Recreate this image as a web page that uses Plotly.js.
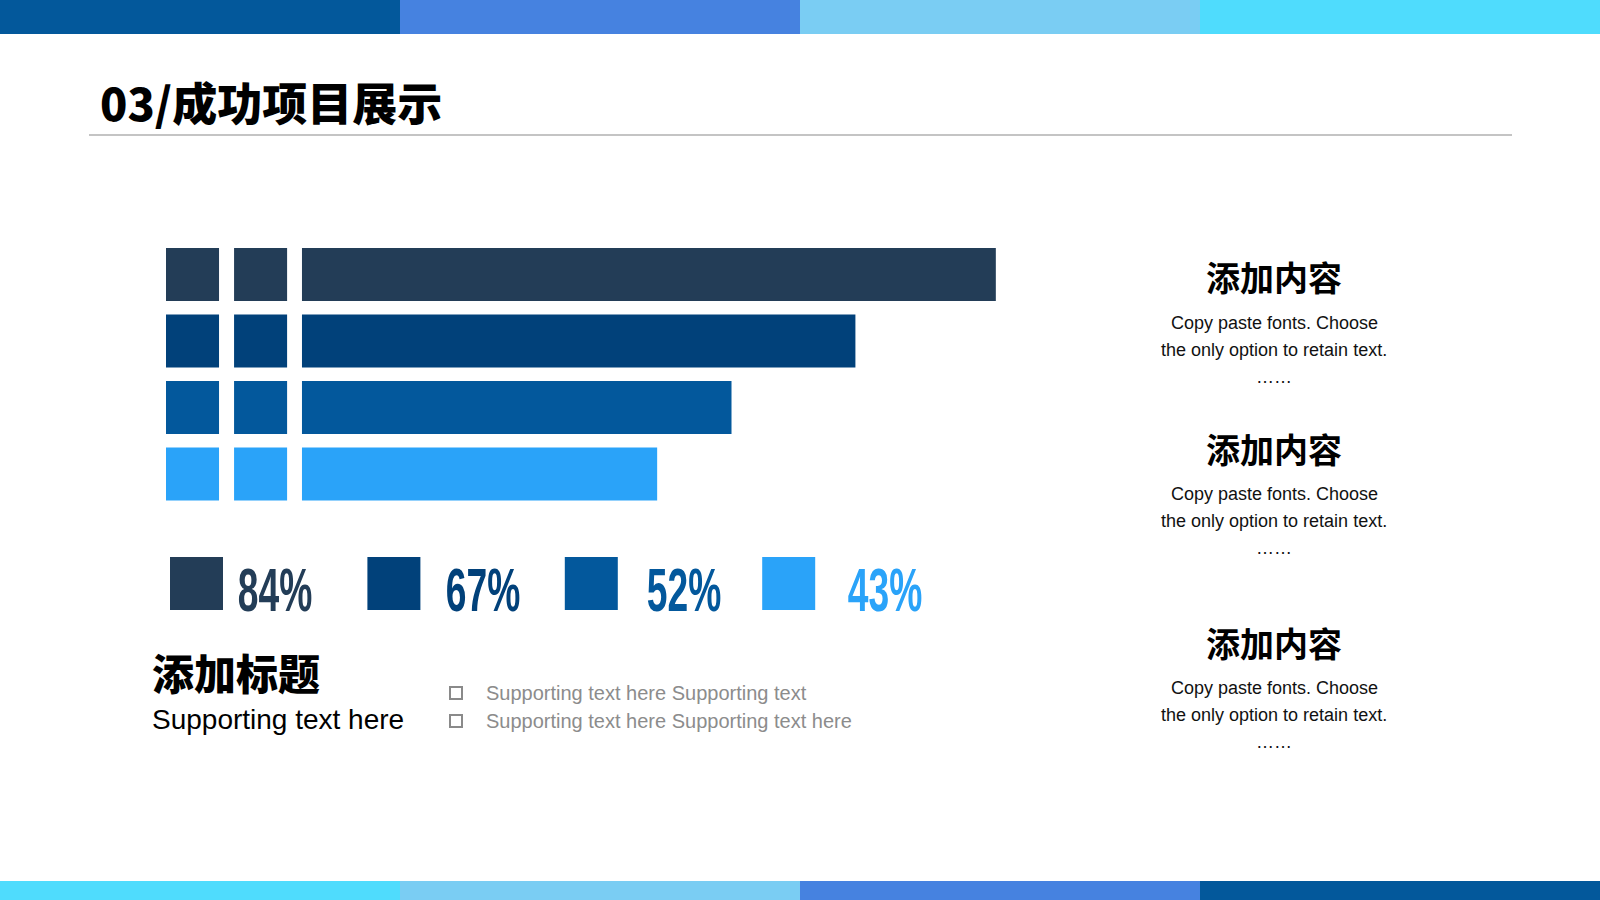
<!DOCTYPE html>
<html><head><meta charset="utf-8">
<script src="https://cdn.plot.ly/plotly-3.0.1.min.js"></script>
<style>html,body{margin:0;padding:0;background:#fff;} #chart{width:1600px;height:900px;}</style>
</head><body><div id="chart"></div>
<script>
// ---- data ----
const categories = ['项目1', '项目2', '项目3', '项目4'];
const values = [84, 67, 52, 43];
const valueLabels = ['84%', '67%', '52%', '43%'];
const barColors = ['#233d57', '#01417a', '#03589c', '#2aa3f9'];
const pageTitle = '03/成功项目展示';
const blockTitle = '添加标题';
const blockSub = 'Supporting text here';
const bulletTexts = ['Supporting text here Supporting text', 'Supporting text here Supporting text here'];
const sideHeads = ['添加内容', '添加内容', '添加内容'];
const sideLines = ['Copy paste fonts. Choose', 'the only option to retain text.', '……'];
const topBarColors = ['#03589b', '#4682e0', '#7acdf3', '#4fdcfd'];
const bottomBarColors = ['#4fdcfd', '#7acdf3', '#4682e0', '#03589b'];

// ---- helpers ----
const W = 1600, H = 900;
const px = x => x / W;
const py = y => 1 - y / H;

const SQ = 6.42;          // decorative square length in axis units
const SQ1 = -16.46, SQ2 = -8.22;

const traces = [
  {type: 'bar', orientation: 'h', y: categories, x: categories.map(() => SQ), base: SQ1,
   marker: {color: barColors}, width: 0.8, hoverinfo: 'skip'},
  {type: 'bar', orientation: 'h', y: categories, x: categories.map(() => SQ), base: SQ2,
   marker: {color: barColors}, width: 0.8, hoverinfo: 'skip'},
  {type: 'bar', orientation: 'h', y: categories, x: values, base: 0,
   marker: {color: barColors}, width: 0.8, hoverinfo: 'skip'}
];

const shapes = [];
const annotations = [];

// top and bottom colour bands
topBarColors.forEach((c, i) => shapes.push({type: 'rect', xref: 'paper', yref: 'paper',
  x0: i / 4, x1: (i + 1) / 4, y0: py(34), y1: 1, fillcolor: c, line: {width: 0}, layer: 'below'}));
bottomBarColors.forEach((c, i) => shapes.push({type: 'rect', xref: 'paper', yref: 'paper',
  x0: i / 4, x1: (i + 1) / 4, y0: 0, y1: py(881), fillcolor: c, line: {width: 0}, layer: 'below'}));

// title rule
shapes.push({type: 'line', xref: 'paper', yref: 'paper', x0: px(89), x1: px(1512), y0: py(135), y1: py(135),
  line: {color: '#8a8a8a', width: 1.2}});

annotations.push({xref: 'paper', yref: 'paper', x: px(98), y: py(101), xanchor: 'left', yanchor: 'middle',
  text: pageTitle, showarrow: false,
  font: {family: '"Noto Sans CJK SC", sans-serif', size: 45, weight: 900, color: '#000'}});

// legend row
const pctIdx = [];
const pctCenters = [275, 483, 684, 885];
valueLabels.forEach((lab, i) => {
  const x0 = 170 + 197.4 * i;
  shapes.push({type: 'rect', xref: 'paper', yref: 'paper', x0: px(x0), x1: px(x0 + 53),
    y0: py(610), y1: py(557), fillcolor: barColors[i], line: {width: 0}});
  pctIdx.push(annotations.length);
  annotations.push({xref: 'paper', yref: 'paper', x: px(pctCenters[i]), y: py(589), xanchor: 'center', yanchor: 'middle',
    text: '<b>' + lab + '</b>', showarrow: false,
    font: {family: '"Liberation Sans", Arial, sans-serif', size: 62, color: barColors[i]}});
});

// block title
annotations.push({xref: 'paper', yref: 'paper', x: px(150), y: py(671), xanchor: 'left', yanchor: 'middle',
  text: blockTitle, showarrow: false,
  font: {family: '"Noto Sans CJK SC", sans-serif', size: 42, weight: 900, color: '#000'}});
annotations.push({xref: 'paper', yref: 'paper', x: px(150), y: py(719), xanchor: 'left', yanchor: 'middle',
  text: blockSub, showarrow: false,
  font: {family: '"Liberation Sans", Arial, sans-serif', size: 28, color: '#000'}});

// bullets
bulletTexts.forEach((t, i) => {
  const yc = 693 + 28 * i;
  shapes.push({type: 'rect', xref: 'paper', yref: 'paper', x0: px(450), x1: px(462),
    y0: py(yc + 6), y1: py(yc - 6), fillcolor: 'rgba(0,0,0,0)', line: {color: '#8a8a8a', width: 2}});
  annotations.push({xref: 'paper', yref: 'paper', x: px(484), y: py(yc), xanchor: 'left', yanchor: 'middle',
    text: t, showarrow: false,
    font: {family: '"Liberation Sans", Arial, sans-serif', size: 20, color: '#8c8c8c'}});
});

// right side blocks
const headY = [277, 448, 642];
sideHeads.forEach((h, i) => {
  const y0 = headY[i];
  annotations.push({xref: 'paper', yref: 'paper', x: px(1274), y: py(y0), xanchor: 'center', yanchor: 'middle',
    text: h, showarrow: false,
    font: {family: '"Noto Sans CJK SC", sans-serif', size: 34, weight: 700, color: '#000'}});
  const offs = [46, 72.5, 100];
  sideLines.forEach((l, j) => {
    annotations.push({xref: 'paper', yref: 'paper', x: px(1274), y: py(y0 + offs[j]), xanchor: 'center', yanchor: 'middle',
      text: l, showarrow: false,
      font: {family: '"Liberation Sans", Arial, sans-serif', size: 18, color: '#111'}});
  });
});

const layout = {
  width: W, height: H,
  margin: {l: 0, r: 0, t: 0, b: 0},
  paper_bgcolor: '#ffffff', plot_bgcolor: 'rgba(0,0,0,0)',
  showlegend: false, barmode: 'overlay',
  xaxis: {domain: [px(166), px(1128)], range: [SQ1, 100], visible: false, fixedrange: true},
  yaxis: {domain: [py(507.25), py(241.25)], type: 'category', range: [3.5, -0.5], visible: false, fixedrange: true},
  shapes: shapes, annotations: annotations
};

Plotly.newPlot('chart', traces, layout, {staticPlot: true, displayModeBar: false}).then(gd => {
  // condense the percentage labels horizontally (heavy condensed display type)
  pctIdx.forEach(i => {
    const t = gd.querySelector('.annotation[data-index="' + i + '"] text');
    if (t) {
      t.style.transformBox = 'fill-box';
      t.style.transformOrigin = 'center';
      t.style.transform = 'scaleX(0.6)';
    }
  });
});
</script>
</body></html>
